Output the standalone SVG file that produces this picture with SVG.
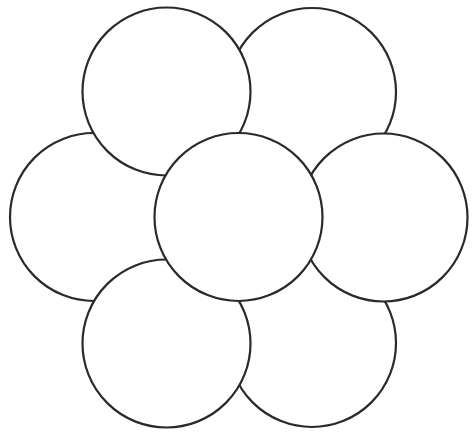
<svg xmlns="http://www.w3.org/2000/svg" width="472" height="433" viewBox="0 0 472 433">
<style>
.c{fill:#fff;stroke:#2a2a2a;stroke-width:2.2}
</style>
<rect width="472" height="433" fill="#fff"/>
<g id="top-right"><circle class="c" cx="312" cy="92" r="84"/></g>
<g id="left"><circle class="c" cx="94" cy="217" r="84"/></g>
<g id="bottom-right"><circle class="c" cx="312" cy="343" r="84"/></g>
<g id="top-left"><circle class="c" cx="166.5" cy="91.5" r="84"/></g>
<g id="right"><circle class="c" cx="383.5" cy="217.5" r="84"/></g>
<g id="bottom-left"><circle class="c" cx="166.5" cy="343.5" r="84"/></g>
<g id="center"><circle class="c" cx="238.5" cy="217" r="84"/></g>
<g id="connectors"></g>
</svg>
